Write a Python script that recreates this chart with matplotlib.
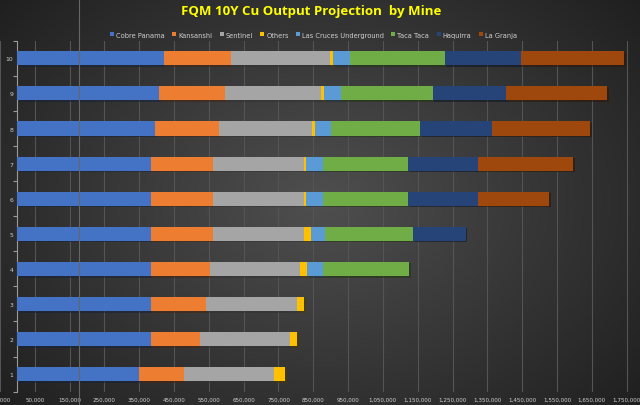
import numpy as np
import matplotlib
matplotlib.use("Agg")
import matplotlib.pyplot as plt
import matplotlib.patheffects as pe
from matplotlib.lines import Line2D

# 연도별(1~10) 광산별 구리 생산량 추정치 (t)
years = [1, 2, 3, 4, 5, 6, 7, 8, 9, 10]
cobre_panama = [350000, 383000, 383000, 383000, 383000, 383000, 383000, 395000, 407000, 420000]
kansanshi = [128000, 141000, 160000, 170000, 180000, 180000, 180000, 185000, 190000, 195000]
sentinel = [260000, 259000, 260000, 259000, 259000, 259000, 259000, 266000, 275000, 282000]
others = [31000, 21000, 21000, 20000, 21000, 8500, 8500, 9500, 9500, 9500]
las_cruces = [0, 0, 0, 46000, 42000, 46000, 46000, 46000, 47000, 50000]
taca_taca = [0, 0, 0, 248000, 251000, 247000, 247000, 256000, 264000, 271000]
haquirra = [0, 0, 0, 0, 152000, 199000, 199000, 205000, 211000, 218000]
la_granja = [0, 0, 0, 0, 0, 205000, 275000, 283000, 290000, 297000]

x_ticks = list(range(-50000, 1750001, 100000))

series = [
    ("Cobre Panama", cobre_panama, "#4472C4"),
    ("Kansanshi", kansanshi, "#ED7D31"),
    ("Sentinel", sentinel, "#A5A5A5"),
    ("Others", others, "#FFC000"),
    ("Las Cruces Underground", las_cruces, "#5B9BD5"),
    ("Taca Taca", taca_taca, "#70AD47"),
    ("Haquirra", haquirra, "#264478"),
    ("La Granja", la_granja, "#9E480E"),
]

fig = plt.figure(figsize=(6.4, 4.06), dpi=100)

# 배경 그라데이션
bg = fig.add_axes([0, 0, 1, 1], zorder=-10)
gx, gy = np.meshgrid(np.linspace(-1, 1, 320), np.linspace(-1, 1, 203))
r = np.clip(np.sqrt((gx * 0.95) ** 2 + (gy * 0.8) ** 2), 0, 1.3)
shade = 0.31 - 0.15 * r
bg.imshow(np.dstack([shade] * 3), extent=[0, 1, 0, 1], aspect="auto")
bg.axis("off")

ax = fig.add_axes([0, 0.033, 1, 0.864])
ax.set_facecolor("none")

left = np.zeros(len(years))
for name, vals, color in series:
    vals = np.array(vals, dtype=float)
    ax.barh(years, vals, left=left, height=0.4, color=color, label=name,
            zorder=3,
            path_effects=[pe.SimplePatchShadow(offset=(1.2, -1.2), alpha=0.55),
                          pe.Normal()])
    left += vals

ax.set_xlim(-40000, 1788571)
ax.set_ylim(0.5, 10.5)

ax.set_xticks(x_ticks)
ax.set_xticklabels([f"{v:,}" for v in x_ticks])
ax.tick_params(axis="x", length=0, pad=4, labelsize=4.1, labelcolor="#d0d0d0")
ax.grid(axis="x", color="#545454", linewidth=0.8, zorder=0)

ax.set_yticks(years)
ax.set_yticklabels([str(y) for y in years])
ax.set_yticks(np.arange(0.5, 10.6, 1), minor=True)
ax.tick_params(axis="y", which="major", length=0, pad=3, labelsize=4.4, labelcolor="#d0d0d0")
ax.tick_params(axis="y", which="minor", length=3, color="#9a9a9a", width=0.8)

for s in ["top", "right", "bottom"]:
    ax.spines[s].set_visible(False)
ax.spines["left"].set_position(("data", 0))
ax.spines["left"].set_color("#9a9a9a")
ax.spines["left"].set_linewidth(0.8)

fig.add_artist(Line2D([0.124, 0.124], [0, 1], color="#666666", linewidth=0.8, zorder=5))

fig.text(0.487, 0.972, "FQM 10Y Cu Output Projection  by Mine", ha="center", va="center",
         fontsize=9.5, fontweight="bold", color="#FFFF00", family="Open Sans")

handles, labels = ax.get_legend_handles_labels()
leg = fig.legend(handles, labels, loc="center", bbox_to_anchor=(0.49, 0.912), ncol=8,
                 fontsize=4.8, frameon=False, handlelength=0.6, handleheight=0.6,
                 handletextpad=0.3, columnspacing=1.1, labelcolor="#d0d0d0")
for h in leg.legend_handles:
    h.set_path_effects([])

fig.savefig("out.png", dpi=100)
